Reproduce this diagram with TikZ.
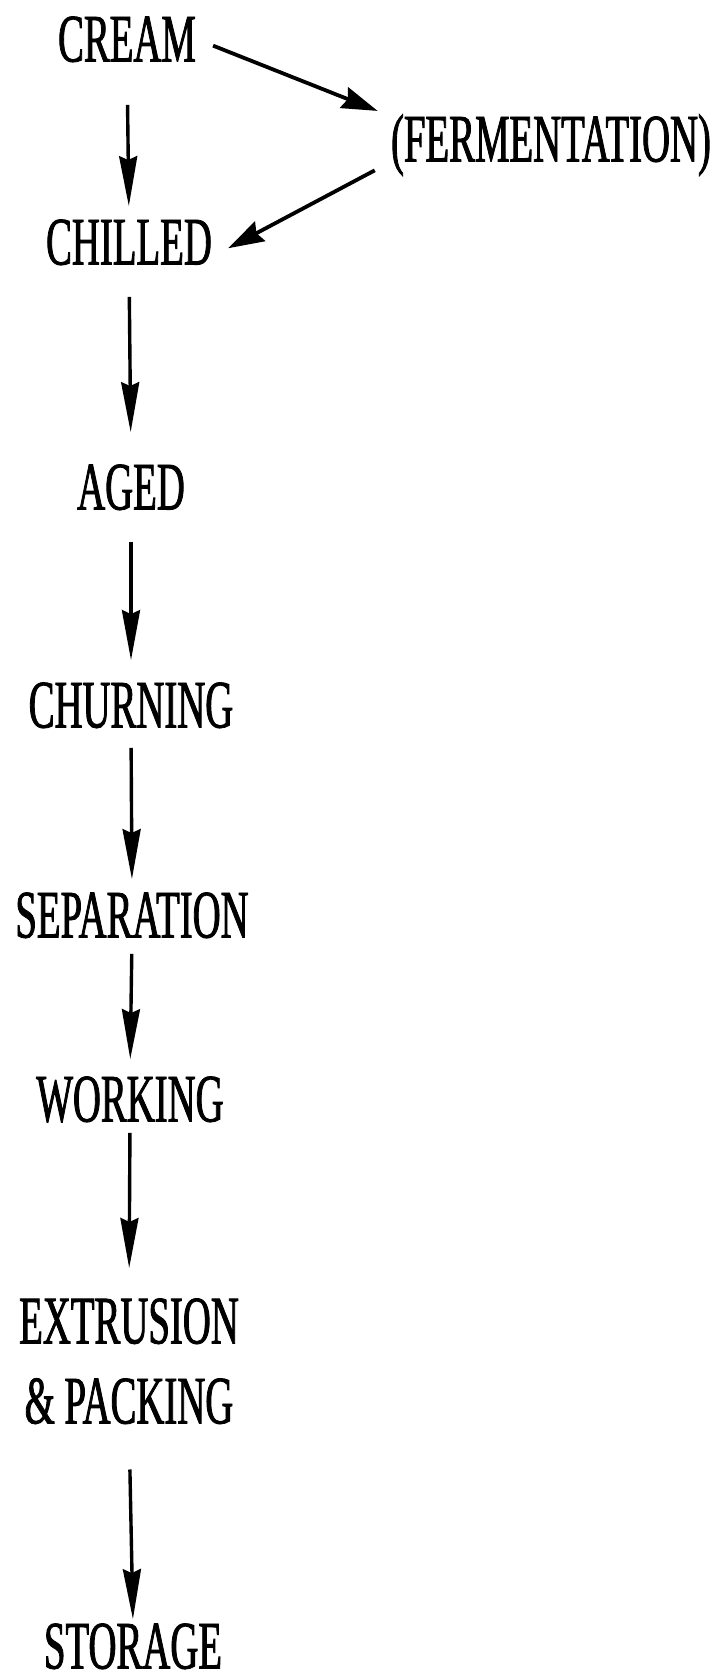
\documentclass[tikz,border=0pt]{standalone}
\usepackage{fontspec}
\setmainfont{Liberation Serif}[FakeStretch=0.57, FakeBold=1.2]
\usepackage{tikz}
\usetikzlibrary{arrows.meta, positioning}

\begin{document}
\begin{tikzpicture}[x=0.5pt, y=-0.5pt,
    stagebox/.style={inner sep=0pt, font=\fontsize{34}{40}\selectfont,
        text height=22.5pt, text depth=0pt},
    twolinebox/.style={inner sep=0pt, font=\fontsize{34}{40}\selectfont,
        align=center},
    flow/.style={-{Stealth[length=25pt, width=9pt, inset=2pt]}, line width=1.7pt},
    sideflow/.style={-{Stealth[length=18pt, width=11pt, inset=2pt]}, line width=1.9pt},
]
\useasboundingbox (0,0) rectangle (724,1680);

% ── MAIN LINE (centred near x=130) ──────────────────────────────────────────
\node[stagebox] at (127,   39) (cream)   {CREAM};
\node[stagebox] at (129,  242) (chilled) {CHILLED};
\node[stagebox] at (131,  487) (aged)    {AGED};
\node[stagebox] at (131,  705) (churn)   {CHURNING};
\node[stagebox] at (132,  915) (sep)     {SEPARATION};
\node[stagebox] at (130, 1099) (work)    {WORKING};
\node[twolinebox, anchor=north] at (129, 1298) (extr) {EXTRUSION\\\& PACKING};
\node[stagebox] at (133, 1646) (store)   {STORAGE};

% ── SIDE STEP ───────────────────────────────────────────────────────────────
\node[stagebox] at (551,  139) (ferm)    {(FERMENTATION)};

\draw[flow, shorten <=21.5pt, shorten >=6.5pt] (cream.south)   -- (chilled.north);
\draw[flow, shorten <=16pt,   shorten >=16pt]  (chilled.south) -- (aged.north);
\draw[flow, shorten <=16pt,   shorten >=11pt]  (aged.south)    -- (churn.north);
\draw[flow, shorten <=10pt,   shorten >=6.5pt] (churn.south)   -- (sep.north);
\draw[flow, shorten <=8pt,    shorten >=8.5pt] (sep.south)     -- (work.north);
\draw[flow, shorten <=5.5pt,  shorten >=15pt]  (work.south)    -- (extr.north);
\draw[flow, shorten <=22.5pt, shorten >=2pt]   (extr.south)    -- (store.north);

\draw[sideflow, shorten <=9pt, shorten >=7pt]  (cream.east) -- (ferm.north west);
\draw[sideflow, shorten <=9pt, shorten >=9pt]  (ferm.south west) -- (chilled.-10);

\end{tikzpicture}
\end{document}
